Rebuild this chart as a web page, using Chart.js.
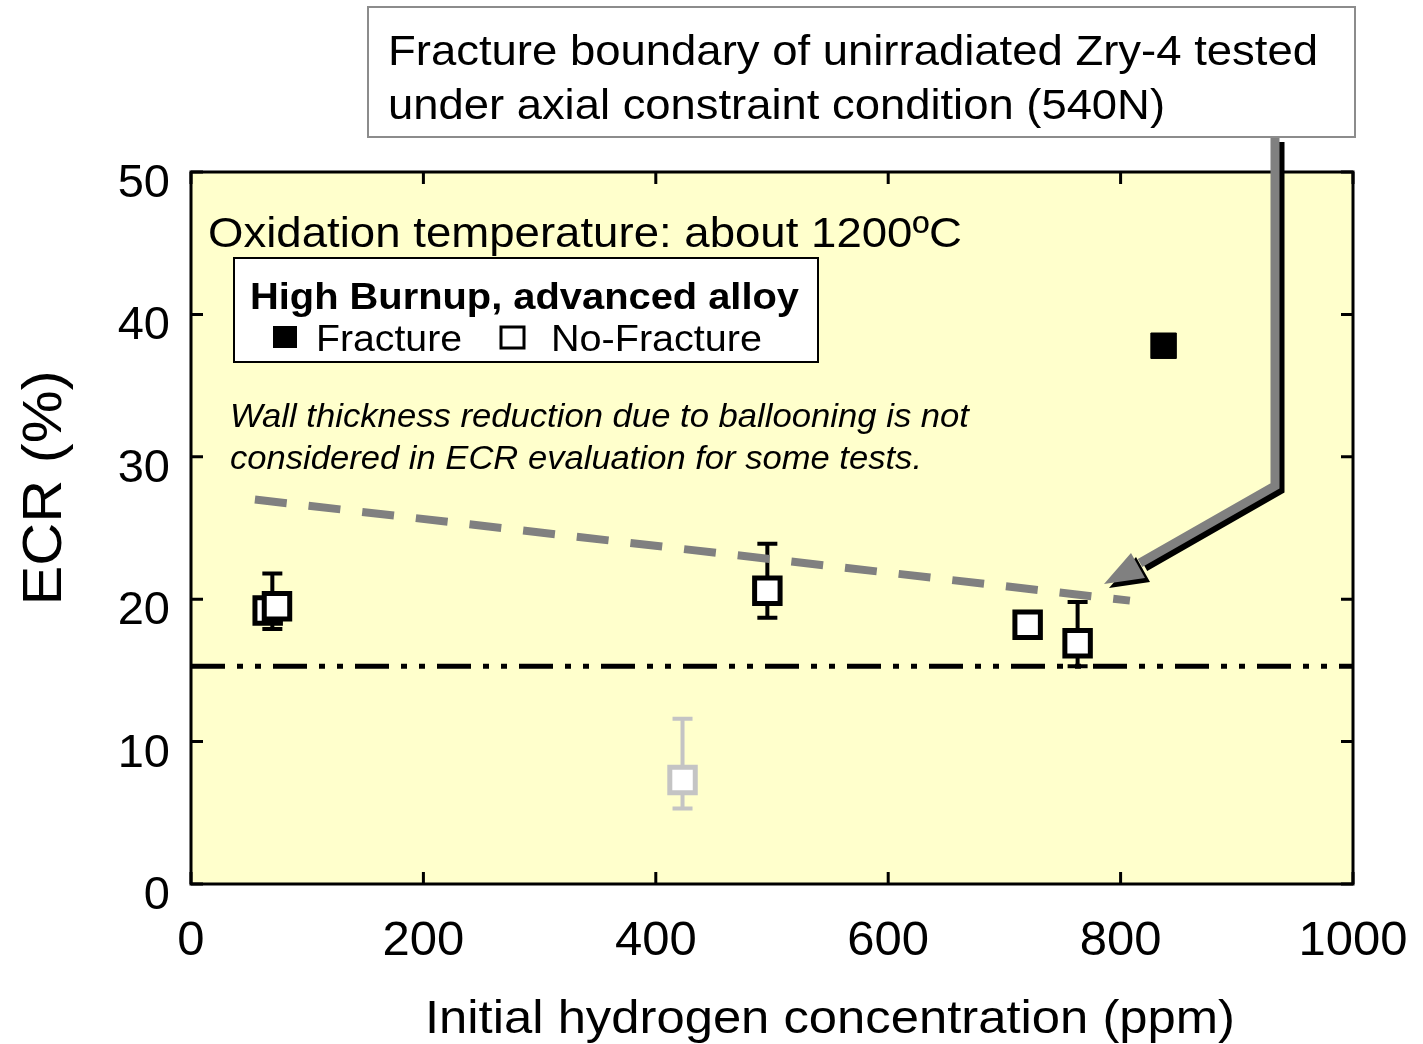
<!DOCTYPE html>
<html>
<head>
<meta charset="utf-8">
<script src="https://cdn.jsdelivr.net/npm/chart.js@4/dist/chart.umd.min.js"></script>
<style>
  html, body { margin: 0; padding: 0; background: #fff; }
  #wrap { width: 1423px; height: 1044px; }
</style>
</head>
<body>
<div id="wrap"><canvas id="c" width="1423" height="1044"></canvas></div>
<script>
// data
const xTicks = [0, 200, 400, 600, 800, 1000];
const yTicks = [0, 10, 20, 30, 40, 50];

const noFracX = [66, 74, 496, 720, 763];
const noFracY = [19.2, 19.5, 20.6, 18.2, 16.9];

const fracX = [837];
const fracY = [37.8];

const grayX = [423];
const grayY = [7.3];

// error bars: x, upper, lower, colour
const errX = [70, 496, 763, 423];
const errHi = [21.8, 23.9, 19.8, 11.6];
const errLo = [17.9, 18.7, 15.3, 5.3];
const errColor = ['#000', '#000', '#000', '#c4c4c4'];

const boundaryX = [55, 808];
const boundaryY = [27.0, 19.9];

const limitX = [0, 1000];
const limitY = [15.3, 15.3];

const FONT = '"Liberation Sans", Arial, sans-serif';

const toPts = (xs, ys) => xs.map((x, i) => ({ x: x, y: ys[i] }));

// draw text stretched horizontally to a given width (the source font runs wider than Arial)
function fitText(ctx, text, x, y, w, align) {
  const m = ctx.measureText(text).width;
  const k = w / m;
  ctx.save();
  ctx.textAlign = 'left';
  let x0 = x;
  if (align === 'center') x0 = x - w / 2;
  ctx.translate(x0, y);
  ctx.scale(k, 1);
  ctx.fillText(text, 0, 0);
  ctx.restore();
}

const framePlugin = {
  id: 'frame',
  beforeDraw(chart) {
    const { ctx, chartArea: a } = chart;
    ctx.save();
    ctx.fillStyle = '#ffffcc';
    ctx.fillRect(a.left, a.top, a.right - a.left, a.bottom - a.top);
    ctx.restore();
  },
  beforeDatasetsDraw(chart) {
    const { ctx, scales } = chart;
    ctx.save();
    errX.forEach((x, i) => {
      const px = scales.x.getPixelForValue(x);
      const top = scales.y.getPixelForValue(errHi[i]);
      const bot = scales.y.getPixelForValue(errLo[i]);
      ctx.strokeStyle = errColor[i];
      ctx.lineWidth = 4;
      ctx.beginPath();
      ctx.moveTo(px, top); ctx.lineTo(px, bot);
      ctx.moveTo(px - 10, top); ctx.lineTo(px + 10, top);
      ctx.moveTo(px - 10, bot); ctx.lineTo(px + 10, bot);
      ctx.stroke();
    });
    ctx.restore();
  },
  afterDraw(chart) {
    const { ctx, chartArea: a, scales } = chart;
    ctx.save();
    // frame and inward ticks
    ctx.strokeStyle = '#000';
    ctx.lineWidth = 3;
    ctx.strokeRect(a.left, a.top, a.right - a.left, a.bottom - a.top);
    ctx.beginPath();
    xTicks.forEach(v => {
      const px = scales.x.getPixelForValue(v);
      ctx.moveTo(px, a.bottom); ctx.lineTo(px, a.bottom - 12);
      ctx.moveTo(px, a.top); ctx.lineTo(px, a.top + 12);
    });
    yTicks.forEach(v => {
      const py = scales.y.getPixelForValue(v);
      ctx.moveTo(a.left, py); ctx.lineTo(a.left + 12, py);
      ctx.moveTo(a.right, py); ctx.lineTo(a.right - 12, py);
    });
    ctx.stroke();

    // axis titles
    ctx.fillStyle = '#000';
    ctx.textBaseline = 'alphabetic';
    ctx.font = '47px ' + FONT;
    fitText(ctx, 'Initial hydrogen concentration (ppm)', 830, 1033, 810, 'center');
    ctx.save();
    ctx.translate(61, 488);
    ctx.rotate(-Math.PI / 2);
    ctx.font = '56px ' + FONT;
    fitText(ctx, 'ECR (%)', 0, 0, 235, 'center');
    ctx.restore();

    // in-plot notes
    ctx.font = '43px ' + FONT;
    fitText(ctx, 'Oxidation temperature: about 1200ºC', 208, 247, 754);
    ctx.font = 'italic 34px ' + FONT;
    fitText(ctx, 'Wall thickness reduction due to ballooning is not', 230, 427, 739);
    fitText(ctx, 'considered in ECR evaluation for some tests.', 230, 469, 692);

    // legend box
    ctx.fillStyle = '#fff';
    ctx.fillRect(234, 258, 584, 104);
    ctx.lineWidth = 2;
    ctx.strokeStyle = '#000';
    ctx.strokeRect(234, 258, 584, 104);
    ctx.fillStyle = '#000';
    ctx.font = 'bold 37px ' + FONT;
    fitText(ctx, 'High Burnup, advanced alloy', 250, 309, 549);
    ctx.font = '37px ' + FONT;
    ctx.fillRect(273, 326, 24, 22);
    fitText(ctx, 'Fracture', 316, 351, 146);
    ctx.lineWidth = 3;
    ctx.strokeRect(501, 327, 23, 21);
    fitText(ctx, 'No-Fracture', 551, 351, 211);

    // annotation box
    ctx.fillStyle = '#fff';
    ctx.fillRect(368, 7, 987, 130);
    ctx.strokeStyle = '#8c8c8c';
    ctx.lineWidth = 2;
    ctx.strokeRect(368, 7, 987, 130);
    ctx.fillStyle = '#000';
    ctx.font = '42px ' + FONT;
    fitText(ctx, 'Fracture boundary of unirradiated Zry-4 tested', 388, 65, 930);
    fitText(ctx, 'under axial constraint condition (540N)', 388, 119, 777);

    // arrow: black shadow then grey body
    const drawArrow = (dx, dy, col) => {
      ctx.strokeStyle = col;
      ctx.fillStyle = col;
      ctx.lineWidth = 9;
      ctx.lineJoin = 'miter';
      ctx.beginPath();
      ctx.moveTo(1275 + dx, 138 + dy);
      ctx.lineTo(1275 + dx, 486 + dy);
      ctx.lineTo(1140 + dx, 563 + dy);
      ctx.stroke();
      ctx.beginPath();
      ctx.moveTo(1104 + dx, 584 + dy);
      ctx.lineTo(1131 + dx, 553 + dy);
      ctx.lineTo(1145 + dx, 578 + dy);
      ctx.closePath();
      ctx.fill();
    };
    drawArrow(5, 4, '#000');
    drawArrow(0, 0, '#808080');
    ctx.restore();
  }
};

new Chart(document.getElementById('c'), {
  type: 'scatter',
  data: {
    datasets: [
      {
        label: 'limit',
        type: 'line',
        data: toPts(limitX, limitY),
        borderColor: '#000',
        borderWidth: 5,
        borderDash: [34, 12, 6, 12, 6, 12],
        pointRadius: 0,
        fill: false,
        order: 1
      },
      {
        label: 'boundary',
        type: 'line',
        data: toPts(boundaryX, boundaryY),
        borderColor: '#808080',
        borderWidth: 8,
        borderDash: [32, 22],
        pointRadius: 0,
        fill: false,
        order: 2
      },
      {
        label: 'Fracture',
        data: toPts(fracX, fracY),
        pointStyle: 'rect',
        pointRadius: 18,
        backgroundColor: '#000',
        borderColor: '#000',
        borderWidth: 1,
        order: 0
      },
      {
        label: 'No-Fracture',
        data: toPts(noFracX, noFracY),
        pointStyle: 'rect',
        pointRadius: 18,
        backgroundColor: '#fff',
        borderColor: '#000',
        borderWidth: 5,
        order: 0
      },
      {
        label: 'gray',
        data: toPts(grayX, grayY),
        pointStyle: 'rect',
        pointRadius: 18,
        backgroundColor: '#fff',
        borderColor: '#c4c4c4',
        borderWidth: 5,
        order: 0
      }
    ]
  },
  options: {
    responsive: false,
    animation: false,
    layout: { padding: { top: 172, right: 70, left: 0, bottom: 0 } },
    plugins: { legend: { display: false }, tooltip: { enabled: false } },
    scales: {
      x: {
        type: 'linear',
        min: 0, max: 1000,
        afterFit: s => { s.height = 160; s.paddingLeft = 0; s.paddingRight = 0; },
        afterBuildTicks: s => { s.ticks = xTicks.map(v => ({ value: v })); },
        grid: { display: false },
        border: { display: false },
        ticks: {
          color: '#000', font: { family: FONT, size: 49 }, padding: 20, maxRotation: 0,
          callback: v => String(v)
        }
      },
      y: {
        type: 'linear',
        min: 0, max: 50,
        afterFit: s => { s.width = 191; s.paddingTop = 0; s.paddingBottom = 0; },
        afterBuildTicks: s => { s.ticks = yTicks.map(v => ({ value: v })); },
        grid: { display: false },
        border: { display: false },
        ticks: {
          color: '#000', font: { family: FONT, size: 47 }, padding: 13, labelOffset: 12,
          callback: v => String(v)
        }
      }
    }
  },
  plugins: [framePlugin]
});
</script>
</body>
</html>
